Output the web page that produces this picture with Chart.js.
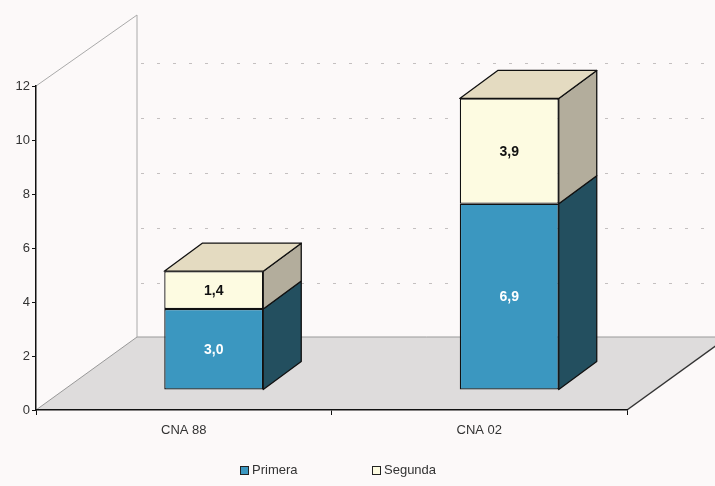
<!DOCTYPE html>
<html>
<head>
<meta charset="utf-8">
<script src="https://cdn.jsdelivr.net/npm/chart.js@4.4.0/dist/chart.umd.min.js"></script>
<style>
  html, body { margin: 0; padding: 0; background: #fcf9f9; }
  #wrap { width: 715px; height: 486px; }
</style>
</head>
<body>
<div id="wrap"><canvas id="chart" width="715" height="486"></canvas></div>
<script>
const categories = ["CNA 88", "CNA 02"];
const primera = [3.0, 6.9];
const segunda = [1.4, 3.9];
const seriesNames = ["Primera", "Segunda"];
const yMin = 0;
const yMax = 12;
const yStep = 2;

// 3d look
const wall = { dx: 101, dy: -73 };
const shift = { dx: 30, dy: -20 };
const depth = { dx: 38, dy: -28 };

const colors = {
  blue: "#3b97c0",
  blueSide: "#234f5f",
  cream: "#fdfbe1",
  creamTop: "#e4dbc1",
  creamSide: "#b3ad9c"
};

const fontFamily = "'Liberation Sans', Arial, sans-serif";
const fmt = v => v.toFixed(1).replace(".", ",");

const scenePlugin = {
  id: "scene",
  beforeDraw(chart) {
    const { ctx, chartArea: a, scales } = chart;
    const y = scales.y;
    const top = y.getPixelForValue(yMax);
    const bottom = y.getPixelForValue(yMin);
    ctx.save();
    ctx.fillStyle = "#fcf9f9";
    ctx.fillRect(0, 0, chart.width, chart.height);

    // floor
    ctx.beginPath();
    ctx.moveTo(a.left, bottom);
    ctx.lineTo(a.left + wall.dx, bottom + wall.dy);
    ctx.lineTo(a.right + wall.dx, bottom + wall.dy);
    ctx.lineTo(a.right, bottom);
    ctx.closePath();
    ctx.fillStyle = "#dedcdc";
    ctx.fill();
    ctx.lineWidth = 1;
    ctx.strokeStyle = "#999";
    ctx.beginPath();
    ctx.moveTo(a.left, bottom);
    ctx.lineTo(a.left + wall.dx, bottom + wall.dy);
    ctx.lineTo(a.right + wall.dx, bottom + wall.dy);
    ctx.stroke();
    ctx.strokeStyle = "#333";
    ctx.lineWidth = 1.5;
    ctx.beginPath();
    ctx.moveTo(a.right, bottom);
    ctx.lineTo(a.right + wall.dx, bottom + wall.dy);
    ctx.stroke();

    // walls
    ctx.strokeStyle = "#aaa";
    ctx.lineWidth = 1;
    ctx.beginPath();
    ctx.moveTo(a.left, top);
    ctx.lineTo(a.left + wall.dx, top + wall.dy + 2);
    ctx.lineTo(a.left + wall.dx, bottom + wall.dy);
    ctx.stroke();

    // back gridlines
    ctx.setLineDash([3, 13]);
    ctx.strokeStyle = "#c4c0c0";
    y.ticks.forEach(t => {
      if (t.value <= yMin || t.value >= yMax) return;
      const py = bottom + wall.dy + 1 + (y.getPixelForValue(t.value) - bottom) * 1.02;
      ctx.beginPath();
      ctx.moveTo(a.left + wall.dx + 4, Math.round(py) + 0.5);
      ctx.lineTo(chart.width, Math.round(py) + 0.5);
      ctx.stroke();
    });
    ctx.restore();
  },
  beforeDatasetsDraw(chart) {
    chart.ctx.save();
    chart.ctx.translate(shift.dx, shift.dy);
  },
  afterDatasetsDraw(chart) {
    const ctx = chart.ctx;
    const last = chart.data.datasets.length - 1;
    chart.data.datasets.forEach((ds, di) => {
      const meta = chart.getDatasetMeta(di);
      meta.data.forEach(bar => {
        const p = bar.getProps(["x", "y", "base", "width"], true);
        const l = p.x - p.width / 2;
        const r = p.x + p.width / 2;
        ctx.lineWidth = 1.3;
        ctx.strokeStyle = "#111";
        ctx.lineJoin = "round";
        // side
        ctx.beginPath();
        ctx.moveTo(r, p.y);
        ctx.lineTo(r + depth.dx, p.y + depth.dy);
        ctx.lineTo(r + depth.dx, p.base + depth.dy);
        ctx.lineTo(r, p.base);
        ctx.closePath();
        ctx.fillStyle = ds.sideColor;
        ctx.fill();
        ctx.stroke();
        if (di === last) {
          ctx.beginPath();
          ctx.moveTo(l, p.y);
          ctx.lineTo(l + depth.dx, p.y + depth.dy);
          ctx.lineTo(r + depth.dx, p.y + depth.dy);
          ctx.lineTo(r, p.y);
          ctx.closePath();
          ctx.fillStyle = ds.topColor;
          ctx.fill();
          ctx.stroke();
        }
      });
    });
    // value labels
    chart.data.datasets.forEach((ds, di) => {
      const meta = chart.getDatasetMeta(di);
      meta.data.forEach((bar, i) => {
        const p = bar.getProps(["x", "y", "base"], true);
        ctx.font = "bold 14px " + fontFamily;
        ctx.fillStyle = ds.labelColor;
        ctx.textAlign = "center";
        ctx.textBaseline = "middle";
        ctx.fillText(fmt(ds.data[i]), p.x, (p.y + p.base) / 2 + 1);
      });
    });
    ctx.restore();
  },
  afterDraw(chart) {
    const ctx = chart.ctx;
    const itemX = [240, 372];
    ctx.save();
    ctx.font = "13px " + fontFamily;
    ctx.textBaseline = "middle";
    ctx.textAlign = "left";
    chart.data.datasets.forEach((ds, i) => {
      const x = itemX[i];
      const yc = 470;
      ctx.fillStyle = ds.backgroundColor;
      ctx.fillRect(x, yc - 4, 8, 8);
      ctx.strokeStyle = "#222";
      ctx.lineWidth = 1;
      ctx.strokeRect(x + 0.5, yc - 3.5, 8, 8);
      ctx.fillStyle = "#333";
      ctx.fillText(ds.label, x + 12, yc);
    });
    ctx.restore();
  }
};

new Chart(document.getElementById("chart"), {
  type: "bar",
  data: {
    labels: categories,
    datasets: [
      {
        label: seriesNames[0],
        data: primera,
        backgroundColor: colors.blue,
        sideColor: colors.blueSide,
        topColor: colors.blue,
        labelColor: "#ffffff",
        borderColor: "#111",
        borderWidth: 1.3,
        borderSkipped: false
      },
      {
        label: seriesNames[1],
        data: segunda,
        backgroundColor: colors.cream,
        sideColor: colors.creamSide,
        topColor: colors.creamTop,
        labelColor: "#111111",
        borderColor: "#111",
        borderWidth: 1.3,
        borderSkipped: false
      }
    ]
  },
  options: {
    responsive: false,
    animation: false,
    events: [],
    layout: { padding: { top: 86, right: 88, bottom: 36, left: 0 } },
    datasets: { bar: { barPercentage: 0.335, categoryPercentage: 1 } },
    plugins: { legend: { display: false }, tooltip: { enabled: false } },
    scales: {
      x: {
        stacked: true,
        afterFit: s => { s.height = 40; },
        grid: { drawOnChartArea: false, tickLength: 5, color: "#111", offset: true },
        border: { color: "#111", width: 1.5 },
        ticks: { color: "#333", padding: 8, font: { family: fontFamily, size: 13 } }
      },
      y: {
        stacked: true,
        min: yMin,
        max: yMax,
        afterFit: s => { s.width = 36; },
        grid: { drawOnChartArea: false, tickLength: 4, color: "#111" },
        border: { color: "#111", width: 1.5 },
        ticks: { stepSize: yStep, color: "#333", padding: 2, font: { family: fontFamily, size: 13 } }
      }
    }
  },
  plugins: [scenePlugin]
});
</script>
</body>
</html>
